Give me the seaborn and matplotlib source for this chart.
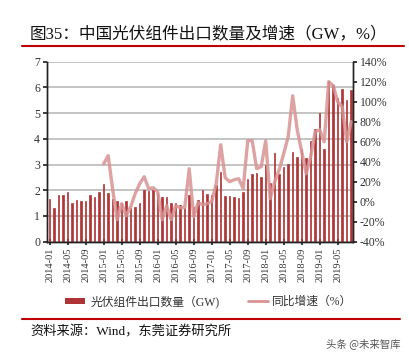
import numpy as np
import pandas as pd
import seaborn as sns
import matplotlib.pyplot as plt
from matplotlib.lines import Line2D
from matplotlib.patches import Patch
from matplotlib.ticker import FuncFormatter

# Data
months = list(pd.period_range('2014-01', '2019-08', freq='M').strftime('%Y-%m'))
exports = [1.66, 1.30, 1.82, 1.80, 1.93, 1.52, 1.62, 1.59, 1.60, 1.80, 1.73, 1.93,
           2.25, 1.88, 1.65, 1.60, 1.52, 1.60, 1.30, 1.35, 1.50, 2.00, 1.96, 2.00,
           1.90, 1.72, 1.72, 1.50, 1.50, 1.43, 1.30, 1.80, 1.35, 1.63, 2.00, 1.86,
           1.80, 2.22, 2.72, 1.79, 1.79, 1.74, 1.69, 1.95, 2.45, 2.63, 2.67, 2.50,
           2.97, 2.30, 3.45, 2.64, 2.90, 3.04, 3.48, 3.30, 3.62, 3.25, 3.92, 4.40,
           5.00, 3.60, 6.25, 6.10, 5.60, 5.95, 5.50, 5.90]
yoy_months = months[12:]
yoy = [38, 46, 12, -18, -2, -14, -5, 8, 18, 25, 13, 14,
       10, -18, -4, -18, -4, -6, -6, 33, -15, -1, -3, -2,
       0, 18, 57, 24, 20, 22, 23, 13, 61, 61, 33, 35,
       61, 3, 20, 32, 48, 65, 106, 72, 50, 28, 45, 70,
       72, 60, 120, 116, 100, 95, 60, 80]

title = '图35：中国光伏组件出口数量及增速（GW，%）'
bar_label = '光伏组件出口数量（GW)'
line_label = '同比增速（%）'
source = '资料来源：Wind，东莞证券研究所'
watermark = '头条 @未来智库'

bar_color = '#AE3436'
line_color = '#D89393'
red = '#C00000'

sns.set_theme(style='white')
plt.rcParams['font.family'] = ['Liberation Serif', 'Noto Sans CJK SC', 'DejaVu Sans']

W, H = 409, 355
fig = plt.figure(figsize=(W / 100, H / 100), dpi=100)
ax = fig.add_axes([47 / W, 1 - 241.7 / H, (353 - 47) / W, (241.7 - 61.7) / H])

df = pd.DataFrame({'month': months, 'gw': exports})
sns.barplot(data=df, x='month', y='gw', color=bar_color, saturation=1, width=0.32,
            edgecolor=bar_color, linewidth=0.5, ax=ax)

ax2 = ax.twinx()
line_x = [months.index(m) for m in yoy_months]
sns.lineplot(x=line_x, y=yoy, ax=ax2, color=line_color, lw=2.4, alpha=0.85)

ax.set_xlim(-0.6, len(months) - 0.6)
ax2.set_xlim(-0.6, len(months) - 0.6)
ax.set_ylim(0, 7)
ax.set_yticks(range(0, 8))
ax2.set_ylim(-40, 140)
ax2.set_yticks(range(-40, 141, 20))
ax2.yaxis.set_major_formatter(FuncFormatter(lambda v, p: f'{v:.0f}%'))

ax.set_xticks(range(0, len(months), 4))
ax.set_xticklabels(months[::4], rotation=90, fontsize=7.5, color='#333333')
ax.set_xlabel('')
ax.set_ylabel('')
ax2.set_ylabel('')

ax.yaxis.grid(True, color='#BFBFBF', lw=1.3)
ax.set_axisbelow(True)
for a in (ax, ax2):
    a.spines['top'].set_visible(False)
    for s in ('left', 'right', 'bottom'):
        a.spines[s].set_color('#222222')
        a.spines[s].set_linewidth(1.0)
ax.tick_params(axis='y', left=True, direction='out', length=3, labelsize=8.5, labelcolor='#333333', pad=2)
ax.tick_params(axis='x', bottom=True, direction='inout', length=4, pad=2)
ax2.tick_params(axis='y', right=True, direction='out', length=3, labelsize=8.5, labelcolor='#333333', pad=2)

# Legend below the axes
handles = [Patch(facecolor=bar_color, edgecolor='none'),
           Line2D([], [], color=line_color, lw=2)]
fig.legend(handles, [bar_label, line_label], loc='center',
           bbox_to_anchor=(209 / W, 1 - 301.7 / H), ncol=2, frameon=False,
           fontsize=8.5, handlelength=1.7, handleheight=0.5, handletextpad=0.4,
           columnspacing=2.4, labelcolor='#333333')

# Title, rules and source
fig.text(30 / W, 1 - 34 / H, title, fontsize=12, va='center', ha='left', color='#111111')
fig.add_artist(Line2D([22 / W, 404 / W], [1 - 45.7 / H] * 2, color=red, lw=1.5))
fig.add_artist(Line2D([22 / W, 400 / W], [1 - 319 / H] * 2, color=red, lw=1.5))
fig.text(30 / W, 1 - 332 / H, source, fontsize=9.5, va='center', ha='left', color='#111111')
fig.text(400 / W, 1 - 344 / H, watermark, fontsize=7.5, va='center', ha='right', color='#555555',
         family=['Noto Sans CJK SC', 'DejaVu Sans'])

fig.savefig('out.png', dpi=100)
